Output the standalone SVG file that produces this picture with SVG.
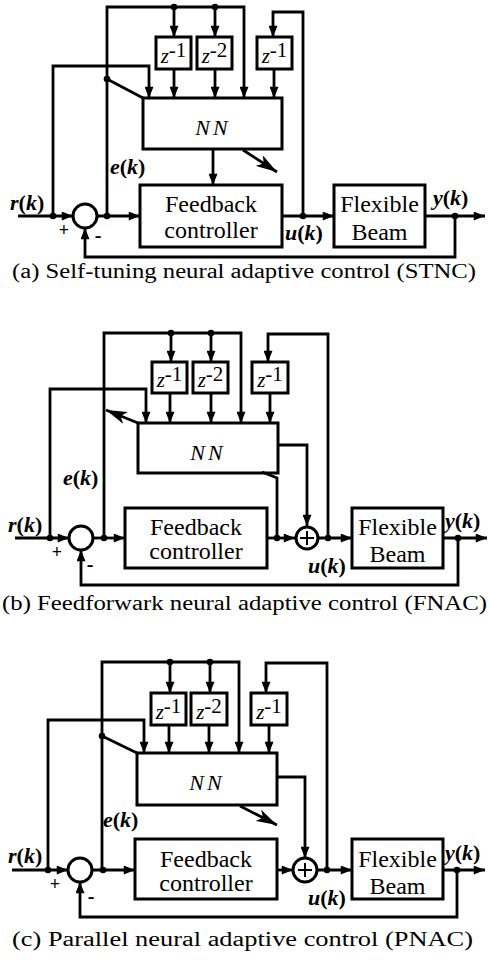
<svg xmlns="http://www.w3.org/2000/svg" width="489" height="962" viewBox="0 0 489 962">
<style>
  .ln { fill: none; stroke: #000; stroke-width: 2.8; stroke-linejoin: miter; }
  .arr { marker-end: url(#ah); }
  .box { fill: #fff; stroke: #000; stroke-width: 3; }
  .sum { fill: #fff; stroke: #000; stroke-width: 3; }
  .dot { fill: #000; }
  .it { font-style: italic; }
  text { font-family: 'Liberation Serif', serif; fill: #000; }
</style>
<defs>
  <marker id="ah" viewBox="0 0 10 8" refX="10" refY="4" markerWidth="12" markerHeight="9" markerUnits="userSpaceOnUse" orient="auto">
    <path d="M0,0 L10,4 L0,8 Z" fill="#000"/>
  </marker>
  <marker id="big" viewBox="0 0 20 12" refX="20" refY="6" markerWidth="21" markerHeight="13" markerUnits="userSpaceOnUse" orient="auto">
    <path d="M0,0 L20,6 L0,12 L5,6 Z" fill="#000"/>
  </marker>
</defs>

<!-- ===================== (a) STNC ===================== -->
<g id="a-connectors">
  <path class="ln arr" d="M107,216 V7 H244 V98"/>
  <path class="ln arr" d="M174,7 V37"/>
  <path class="ln arr" d="M215,7 V37"/>
  <path class="ln arr" d="M174,69 V98"/>
  <path class="ln arr" d="M215,69 V98"/>
  <path class="ln arr" d="M274,69 V98"/>
  <path class="ln arr" d="M303,216 V12 H273 V37"/>
  <path class="ln arr" d="M53,216 V66 H149 V98"/>
  <path class="ln" d="M107,79 L143,98"/>
  <path class="ln arr" d="M213,149 V185"/>
  <path class="ln" d="M243,150 L277,172" style="marker-end:url(#big)" stroke-width="3.5"/>
  <path class="ln arr" d="M18,216 H73"/>
  <path class="ln arr" d="M97,216 H140"/>
  <path class="ln arr" d="M282,216 H334"/>
  <path class="ln arr" d="M425,216 H485"/>
  <path class="ln arr" d="M455,216 V257 H85 V228"/>
  <circle class="dot" cx="174" cy="7" r="3.3"/>
  <circle class="dot" cx="215" cy="7" r="3.3"/>
  <circle class="dot" cx="107" cy="79" r="3.3"/>
  <circle class="dot" cx="53" cy="216" r="3.3"/>
  <circle class="dot" cx="107" cy="216" r="3.3"/>
  <circle class="dot" cx="303" cy="216" r="3.3"/>
  <circle class="dot" cx="455" cy="216" r="3.3"/>
</g>
<g id="a-z1"><rect class="box" x="156" y="37" width="35" height="32"/><text x="173.5" y="63" font-size="21" text-anchor="middle"><tspan class="it">z</tspan><tspan dy="-6">-1</tspan></text></g>
<g id="a-z2"><rect class="box" x="197" y="37" width="35" height="32"/><text x="214.5" y="63" font-size="21" text-anchor="middle"><tspan class="it">z</tspan><tspan dy="-6">-2</tspan></text></g>
<g id="a-z3"><rect class="box" x="257" y="37" width="35" height="32"/><text x="274.5" y="63" font-size="21" text-anchor="middle"><tspan class="it">z</tspan><tspan dy="-6">-1</tspan></text></g>
<g id="a-nn"><rect class="box" x="143" y="98" width="139" height="51"/><text x="213" y="135" font-size="22" font-style="italic" text-anchor="middle" letter-spacing="3">NN</text></g>
<g id="a-sum"><circle class="sum" cx="85" cy="216" r="12"/></g>
<g id="a-ctrl"><rect class="box" x="140" y="185" width="142" height="62"/><text x="211" y="212" font-size="24" text-anchor="middle">Feedback</text><text x="211" y="238" font-size="24" text-anchor="middle">controller</text></g>
<g id="a-beam"><rect class="box" x="334" y="185" width="91" height="62"/><text x="379.5" y="212" font-size="24" text-anchor="middle">Flexible</text><text x="379.5" y="240" font-size="24" text-anchor="middle">Beam</text></g>
<g id="a-labels" font-size="22" font-weight="bold">
  <text x="10" y="210"><tspan class="it">r</tspan>(<tspan class="it">k</tspan>)</text>
  <text x="110" y="174"><tspan class="it">e</tspan>(<tspan class="it">k</tspan>)</text>
  <text x="285" y="240"><tspan class="it">u</tspan>(<tspan class="it">k</tspan>)</text>
  <text x="433" y="205"><tspan class="it">y</tspan>(<tspan class="it">k</tspan>)</text>
  <text x="64" y="236" font-size="18" text-anchor="middle">+</text>
  <text x="98" y="242" font-size="20" text-anchor="middle">-</text>
</g>
<text x="12" y="278" font-size="20" textLength="464" lengthAdjust="spacingAndGlyphs">(a) Self-tuning neural adaptive control (STNC)</text>

<!-- ===================== (b) FNAC ===================== -->
<g id="b-z1"><rect class="box" x="152" y="362" width="35" height="31"/><text x="169.5" y="387" font-size="21" text-anchor="middle"><tspan class="it">z</tspan><tspan dy="-6">-1</tspan></text></g>
<g id="b-z2"><rect class="box" x="193" y="362" width="35" height="31"/><text x="210.5" y="387" font-size="21" text-anchor="middle"><tspan class="it">z</tspan><tspan dy="-6">-2</tspan></text></g>
<g id="b-z3"><rect class="box" x="252" y="362" width="36" height="31"/><text x="270" y="387" font-size="21" text-anchor="middle"><tspan class="it">z</tspan><tspan dy="-6">-1</tspan></text></g>
<g id="b-nn"><rect class="box" x="138" y="423" width="140" height="50"/><text x="208" y="460" font-size="22" font-style="italic" text-anchor="middle" letter-spacing="3">NN</text></g>
<g id="b-sum1"><circle class="sum" cx="81" cy="538" r="12"/></g>
<g id="b-sum2"><circle class="sum" cx="307" cy="538" r="11"/><path d="M300,538 H314 M307,531 V545" stroke="#000" stroke-width="2" fill="none"/></g>
<g id="b-ctrl"><rect class="box" x="125" y="508" width="142" height="60"/><text x="196" y="535" font-size="24" text-anchor="middle">Feedback</text><text x="196" y="559" font-size="24" text-anchor="middle">controller</text></g>
<g id="b-beam"><rect class="box" x="352" y="508" width="91" height="60"/><text x="397.5" y="535" font-size="24" text-anchor="middle">Flexible</text><text x="397.5" y="562" font-size="24" text-anchor="middle">Beam</text></g>
<g id="b-labels" font-size="22" font-weight="bold">
  <text x="8" y="532"><tspan class="it">r</tspan>(<tspan class="it">k</tspan>)</text>
  <text x="63" y="485"><tspan class="it">e</tspan>(<tspan class="it">k</tspan>)</text>
  <text x="308" y="573"><tspan class="it">u</tspan>(<tspan class="it">k</tspan>)</text>
  <text x="445" y="528"><tspan class="it">y</tspan>(<tspan class="it">k</tspan>)</text>
  <text x="57" y="558" font-size="18" text-anchor="middle">+</text>
  <text x="90" y="571" font-size="20" text-anchor="middle">-</text>
</g>
<text x="2" y="610" font-size="20" textLength="485" lengthAdjust="spacingAndGlyphs">(b) Feedforwark neural adaptive control (FNAC)</text>

<!-- ===================== (c) PNAC ===================== -->
<g id="c-z1"><rect class="box" x="151" y="693" width="35" height="32"/><text x="168.5" y="719" font-size="21" text-anchor="middle"><tspan class="it">z</tspan><tspan dy="-6">-1</tspan></text></g>
<g id="c-z2"><rect class="box" x="191" y="693" width="36" height="32"/><text x="209" y="719" font-size="21" text-anchor="middle"><tspan class="it">z</tspan><tspan dy="-6">-2</tspan></text></g>
<g id="c-z3"><rect class="box" x="251" y="693" width="36" height="32"/><text x="269" y="719" font-size="21" text-anchor="middle"><tspan class="it">z</tspan><tspan dy="-6">-1</tspan></text></g>
<g id="c-nn"><rect class="box" x="137" y="753" width="140" height="52"/><text x="207" y="790" font-size="22" font-style="italic" text-anchor="middle" letter-spacing="3">NN</text></g>
<g id="c-sum1"><circle class="sum" cx="80" cy="870" r="12"/></g>
<g id="c-sum2"><circle class="sum" cx="305" cy="870" r="12"/><path d="M298,870 H312 M305,863 V877" stroke="#000" stroke-width="2" fill="none"/></g>
<g id="c-ctrl"><rect class="box" x="135" y="839" width="142" height="60"/><text x="206" y="867" font-size="24" text-anchor="middle">Feedback</text><text x="206" y="891" font-size="24" text-anchor="middle">controller</text></g>
<g id="c-beam"><rect class="box" x="352" y="839" width="91" height="60"/><text x="397.5" y="867" font-size="24" text-anchor="middle">Flexible</text><text x="397.5" y="894" font-size="24" text-anchor="middle">Beam</text></g>
<g id="c-labels" font-size="22" font-weight="bold">
  <text x="8" y="863"><tspan class="it">r</tspan>(<tspan class="it">k</tspan>)</text>
  <text x="103" y="827"><tspan class="it">e</tspan>(<tspan class="it">k</tspan>)</text>
  <text x="308" y="905"><tspan class="it">u</tspan>(<tspan class="it">k</tspan>)</text>
  <text x="445" y="860"><tspan class="it">y</tspan>(<tspan class="it">k</tspan>)</text>
  <text x="55" y="890" font-size="18" text-anchor="middle">+</text>
  <text x="91" y="903" font-size="20" text-anchor="middle">-</text>
</g>
<text x="12" y="946" font-size="20" textLength="461" lengthAdjust="spacingAndGlyphs">(c) Parallel neural adaptive control (PNAC)</text>

<g id="b-connectors">
  <path class="ln arr" d="M104,538 V333 H241 V423"/>
  <path class="ln arr" d="M171,333 V362"/>
  <path class="ln arr" d="M211,333 V362"/>
  <path class="ln arr" d="M170,393 V423"/>
  <path class="ln arr" d="M211,393 V423"/>
  <path class="ln arr" d="M270,393 V423"/>
  <path class="ln arr" d="M328,538 V334 H268 V362"/>
  <path class="ln arr" d="M50,538 V389 H146 V423"/>
  <path class="ln" d="M138,423 L106,410" style="marker-end:url(#big)" stroke-width="3.5"/>
  <path class="ln arr" d="M278,445 H307 V526"/>
  <path class="ln" d="M277,538 V478 L262,472"/>
  <path class="ln arr" d="M15,538 H69"/>
  <path class="ln arr" d="M93,538 H125"/>
  <path class="ln arr" d="M267,538 H295"/>
  <path class="ln arr" d="M318,538 H352"/>
  <path class="ln arr" d="M443,538 H487"/>
  <path class="ln arr" d="M458,538 V585 H81 V550"/>
  <circle class="dot" cx="171" cy="333" r="3.3"/>
  <circle class="dot" cx="211" cy="333" r="3.3"/>
  <circle class="dot" cx="50" cy="538" r="3.3"/>
  <circle class="dot" cx="104" cy="538" r="3.3"/>
  <circle class="dot" cx="277" cy="538" r="3.3"/>
  <circle class="dot" cx="328" cy="538" r="3.3"/>
  <circle class="dot" cx="458" cy="538" r="3.3"/>
</g>

<g id="c-connectors">
  <path class="ln arr" d="M102,870 V662 H239 V753"/>
  <path class="ln arr" d="M170,662 V693"/>
  <path class="ln arr" d="M210,662 V693"/>
  <path class="ln arr" d="M169,725 V753"/>
  <path class="ln arr" d="M209,725 V753"/>
  <path class="ln arr" d="M269,725 V753"/>
  <path class="ln arr" d="M327,870 V663 H266 V693"/>
  <path class="ln arr" d="M48,870 V720 H144 V753"/>
  <path class="ln" d="M102,736 L137,753"/>
  <path class="ln arr" d="M277,777 H305 V858"/>
  <path class="ln" d="M240,806 L277,825" style="marker-end:url(#big)" stroke-width="3.5"/>
  <path class="ln arr" d="M12,870 H68"/>
  <path class="ln arr" d="M92,870 H135"/>
  <path class="ln arr" d="M277,870 H293"/>
  <path class="ln arr" d="M317,870 H352"/>
  <path class="ln arr" d="M443,870 H485"/>
  <path class="ln arr" d="M457,870 V917 H80 V882"/>
  <circle class="dot" cx="170" cy="662" r="3.3"/>
  <circle class="dot" cx="210" cy="662" r="3.3"/>
  <circle class="dot" cx="102" cy="736" r="3.3"/>
  <circle class="dot" cx="48" cy="870" r="3.3"/>
  <circle class="dot" cx="103" cy="870" r="3.3"/>
  <circle class="dot" cx="327" cy="870" r="3.3"/>
  <circle class="dot" cx="457" cy="870" r="3.3"/>
</g>
</svg>
